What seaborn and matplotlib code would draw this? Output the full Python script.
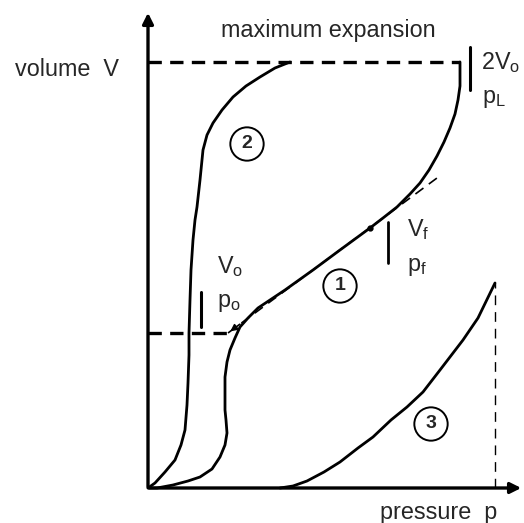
import numpy as np
import pandas as pd
import seaborn as sns
import matplotlib.pyplot as plt

# curve (1): pressure p and volume V
p_curve1 = [0, 9, 25, 40, 52, 64, 72, 77, 79, 78, 77, 77, 77, 79, 82, 87, 92, 100, 110, 122,
            137, 165, 192, 222, 235, 249, 262, 272, 281, 289, 296, 302, 307, 310, 312, 312]
V_curve1 = [0, 0, 3, 7, 11, 19, 31, 43, 55, 68, 78, 95, 111, 126, 138, 150, 161, 170, 180, 188,
            198, 218, 238, 260, 270, 281, 294, 305, 318, 332, 346, 360, 374, 388, 402, 426]

# curve (2)
p_curve2 = [0, 7, 17, 27, 33, 37, 39, 40, 41, 41, 42, 43, 45, 47, 49, 52, 55, 59, 65, 74,
            85, 98, 112, 127, 142]
V_curve2 = [0, 5, 16, 28, 43, 58, 83, 105, 133, 155, 188, 218, 248, 268, 281, 308, 338, 353,
            365, 378, 391, 402, 411, 420, 426]

# curve (3)
p_curve3 = [132, 145, 159, 176, 192, 210, 225, 243, 259, 275, 292, 315, 330, 347]
V_curve3 = [0, 2, 7, 16, 26, 40, 51, 68, 81, 96, 118, 148, 170, 205]

# reference levels
V_max = 426      # maximum expansion, 2V0
V_start = 155    # V0
p_start = 80     # p0
p_L = 312
p_end3 = 347

# tangent through (p0, V0)
p_tangent = [80, 289]
V_tangent = [155, 310]
p_touch, V_touch = 222, 260

sns.set_style('white')
plt.rcParams['font.family'] = ['Liberation Sans', 'DejaVu Sans']
plt.rcParams['mathtext.fontset'] = 'custom'
plt.rcParams['mathtext.rm'] = 'Liberation Sans'

fig = plt.figure(figsize=(5.24, 5.23), dpi=100)
ax = fig.add_axes([0, 0, 1, 1])
ax.set_xlim(-148, 376)
ax.set_ylim(-35, 488)
ax.axis('off')

curves = pd.concat([
    pd.DataFrame({'p': p_curve1, 'V': V_curve1, 'curve': '1'}),
    pd.DataFrame({'p': p_curve2, 'V': V_curve2, 'curve': '2'}),
    pd.DataFrame({'p': p_curve3, 'V': V_curve3, 'curve': '3'}),
])
sns.lineplot(data=curves, x='p', y='V', units='curve', estimator=None, sort=False,
             color='black', lw=2.0, ax=ax, legend=False)

# dashed guides
ax.plot([0, p_L], [V_max, V_max], color='black', lw=2.4, ls=(0, (4, 2.5)))
ax.plot([0, p_start], [V_start, V_start], color='black', lw=2.4, ls=(0, (4, 2.5)))
ax.plot(p_tangent, V_tangent, color='black', lw=1.2, ls=(0, (6, 4)))
ax.plot([p_end3, p_end3], [0, V_curve3[-1]], color='black', lw=1.0, ls=(0, (7, 5)))
ax.annotate('', xy=(p_tangent[0], V_tangent[0]), xytext=(p_tangent[0] + 14, V_tangent[0] + 10.4),
            arrowprops=dict(arrowstyle='-|>', color='black', lw=1.2, mutation_scale=10))
ax.plot([p_touch], [V_touch], 'o', color='black', ms=3.5)

# marker bars
ax.plot([53, 53], [161, 196], color='black', lw=2.2)
ax.plot([240, 240], [225, 266], color='black', lw=2.0)
ax.plot([322, 322], [398, 441], color='black', lw=2.2)

# axes with arrows
ax.annotate('', xy=(0, 478), xytext=(0, -1.5),
            arrowprops=dict(arrowstyle='-|>', color='black', lw=2.4, mutation_scale=16))
ax.annotate('', xy=(376, 0), xytext=(-1.5, 0),
            arrowprops=dict(arrowstyle='-|>', color='black', lw=2.4, mutation_scale=16))

fs = 16.8
ax.text(-133, 418, 'volume  V', fontsize=fs, va='center', ha='left')
ax.text(180, 458, 'maximum expansion', fontsize=fs, va='center', ha='center')
ax.text(349, -24, 'pressure  p', fontsize=fs, va='center', ha='right')
ax.text(333, 425, r'2V$_\mathrm{o}$', fontsize=fs, va='center', ha='left')
ax.text(334, 389, r'p$_\mathrm{L}$', fontsize=fs, va='center', ha='left')
ax.text(69, 221, r'V$_\mathrm{o}$', fontsize=fs, va='center', ha='left')
ax.text(69, 186, r'p$_\mathrm{o}$', fontsize=fs, va='center', ha='left')
ax.text(259, 258, r'V$_\mathrm{f}$', fontsize=fs, va='center', ha='left')
ax.text(259, 221, r'p$_\mathrm{f}$', fontsize=fs, va='center', ha='left')

for label, (cp, cv) in {'1': (192, 202), '2': (99, 344), '3': (283, 64)}.items():
    ax.text(cp, cv, label, fontsize=14, ha='center', va='center', fontweight='bold',
            bbox=dict(boxstyle='circle,pad=0.42', fc='white', ec='black', lw=1.4))

fig.savefig('out.png', dpi=100)
